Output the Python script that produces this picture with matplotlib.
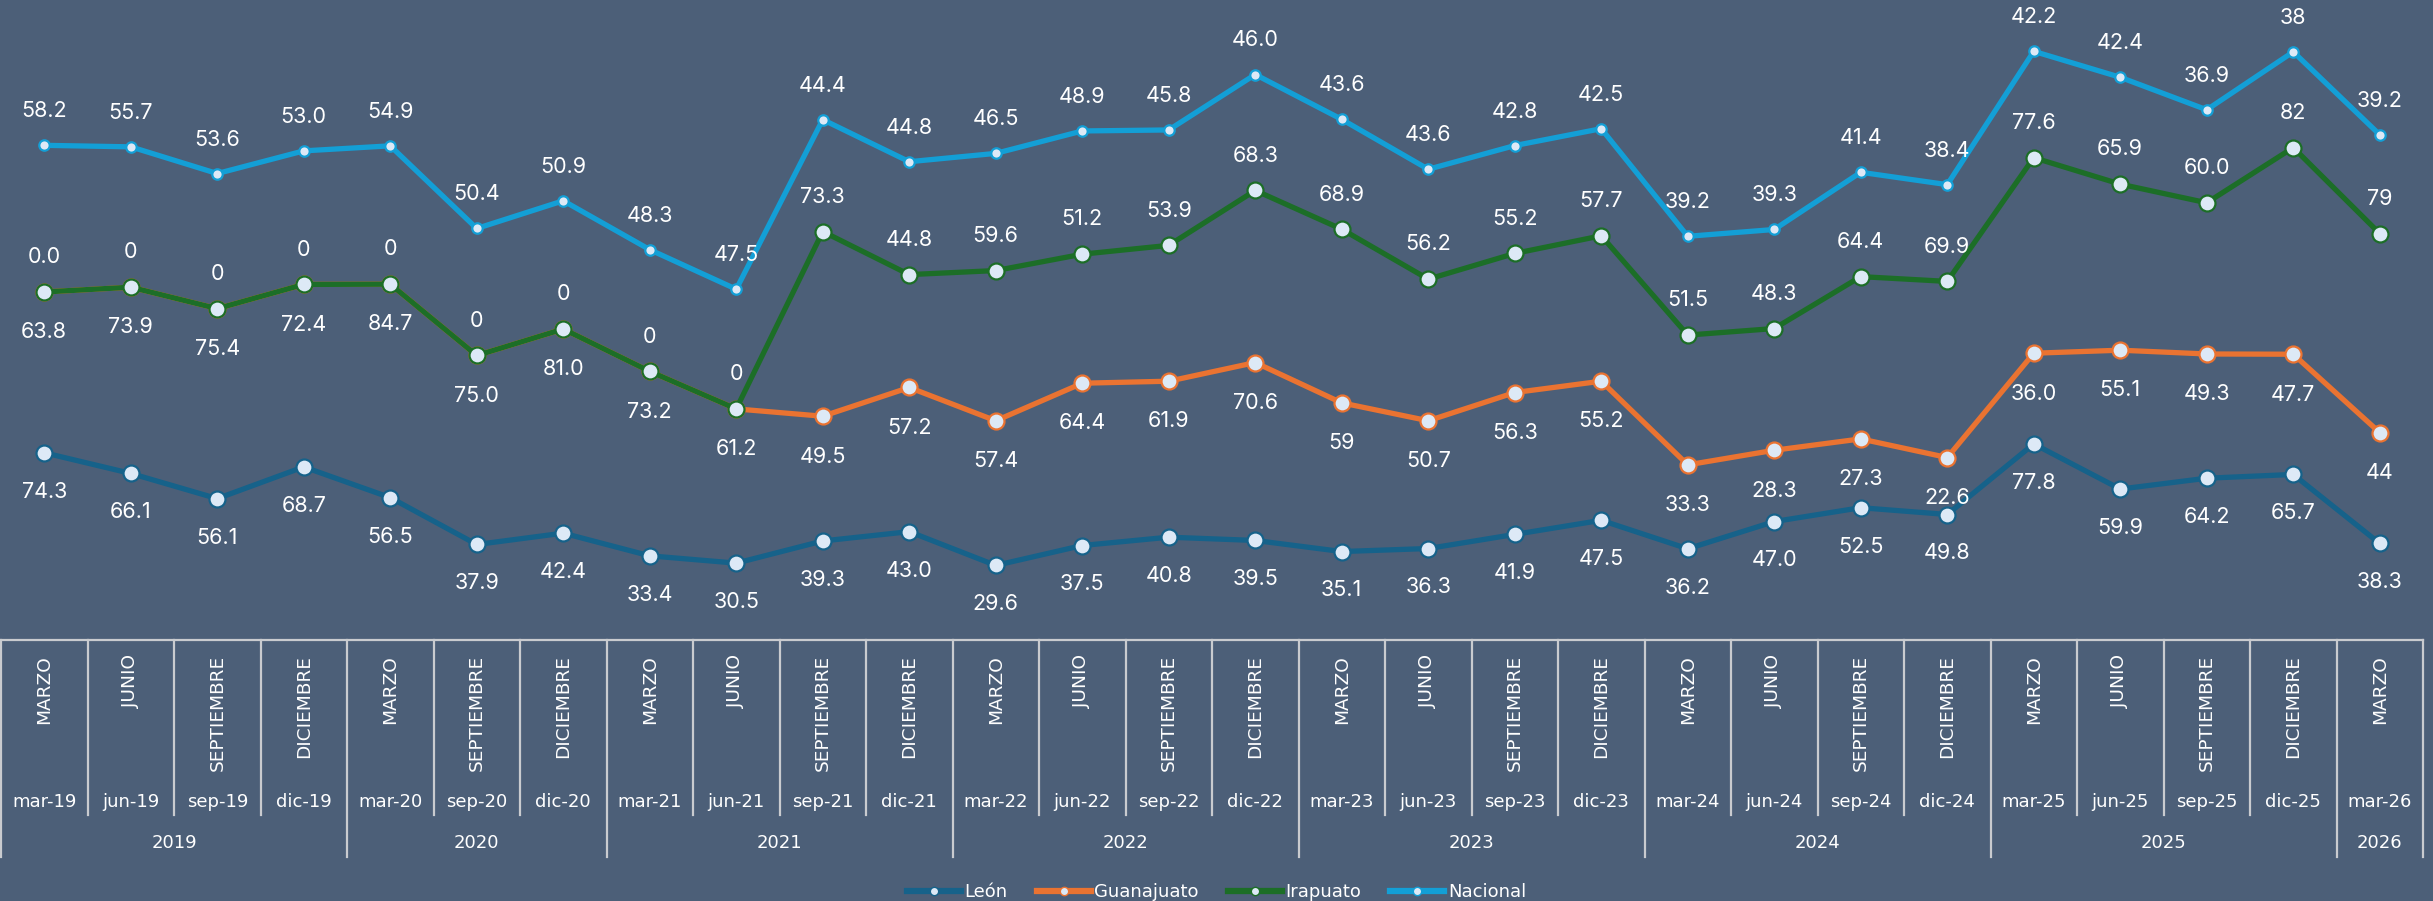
import matplotlib.pyplot as plt
from matplotlib.lines import Line2D
import numpy as np

plt.rcParams['font.family'] = ['Inter', 'DejaVu Sans']
eje_font = ['DejaVu Sans']

# categorias del eje (tres niveles)
meses = ['MARZO', 'JUNIO', 'SEPTIEMBRE', 'DICIEMBRE',
         'MARZO', 'SEPTIEMBRE', 'DICIEMBRE',
         'MARZO', 'JUNIO', 'SEPTIEMBRE', 'DICIEMBRE',
         'MARZO', 'JUNIO', 'SEPTIEMBRE', 'DICIEMBRE',
         'MARZO', 'JUNIO', 'SEPTIEMBRE', 'DICIEMBRE',
         'MARZO', 'JUNIO', 'SEPTIEMBRE', 'DICIEMBRE',
         'MARZO', 'JUNIO', 'SEPTIEMBRE', 'DICIEMBRE',
         'MARZO']
periodos = ['mar-19', 'jun-19', 'sep-19', 'dic-19',
            'mar-20', 'sep-20', 'dic-20',
            'mar-21', 'jun-21', 'sep-21', 'dic-21',
            'mar-22', 'jun-22', 'sep-22', 'dic-22',
            'mar-23', 'jun-23', 'sep-23', 'dic-23',
            'mar-24', 'jun-24', 'sep-24', 'dic-24',
            'mar-25', 'jun-25', 'sep-25', 'dic-25',
            'mar-26']
anios = ['2019', '2020', '2021', '2022', '2023', '2024', '2025', '2026']
anio_n = [4, 3, 4, 4, 4, 4, 4, 1]

# valores (texto tal como aparece en las etiquetas)
leon = ['74.3', '66.1', '56.1', '68.7', '56.5', '37.9', '42.4', '33.4', '30.5', '39.3',
        '43.0', '29.6', '37.5', '40.8', '39.5', '35.1', '36.3', '41.9', '47.5', '36.2',
        '47.0', '52.5', '49.8', '77.8', '59.9', '64.2', '65.7', '38.3']
guanajuato = ['63.8', '73.9', '75.4', '72.4', '84.7', '75.0', '81.0', '73.2', '61.2', '49.5',
              '57.2', '57.4', '64.4', '61.9', '70.6', '59', '50.7', '56.3', '55.2', '33.3',
              '28.3', '27.3', '22.6', '36.0', '55.1', '49.3', '47.7', '44']
irapuato = ['0.0', '0', '0', '0', '0', '0', '0', '0', '0', '73.3',
            '44.8', '59.6', '51.2', '53.9', '68.3', '68.9', '56.2', '55.2', '57.7', '51.5',
            '48.3', '64.4', '69.9', '77.6', '65.9', '60.0', '82', '79']
nacional = ['58.2', '55.7', '53.6', '53.0', '54.9', '50.4', '50.9', '48.3', '47.5', '44.4',
            '44.8', '46.5', '48.9', '45.8', '46.0', '43.6', '43.6', '42.8', '42.5', '39.2',
            '39.3', '41.4', '38.4', '42.2', '42.4', '36.9', '38', '39.2']

bg = '#4c5f78'
face = '#dde9f6'
c_leon = '#16628a'
c_gto = '#ea7331'
c_ira = '#1c6e27'
c_nac = '#139fd6'
c_axis = '#c9cbcf'

x = np.arange(len(periodos))

# grafica de lineas apiladas
series = [('León', leon, c_leon, 11.5, -28),
          ('Guanajuato', guanajuato, c_gto, 11.5, -29),
          ('Irapuato', irapuato, c_ira, 11.5, 25),
          ('Nacional', nacional, c_nac, 7.5, 24.5)]

fig = plt.figure(figsize=(24.33, 9.01), dpi=100, facecolor=bg)
ax = fig.add_axes([1 / 2433, 261 / 901, 2422 / 2433, 630 / 901])
ax.set_facecolor(bg)

base = np.zeros(len(x))
handles = []
for nombre, txt, color, ms, off in series:
    vals = np.array([float(t) for t in txt])
    y = base + vals
    ax.plot(x, y, color=color, lw=3.8, marker='o', ms=ms, mfc=face, mec=color,
            mew=1.6, solid_capstyle='round')
    for xi, yi, t in zip(x, y, txt):
        ax.annotate(t, (xi, yi), xytext=(0, off), textcoords='offset points',
                    ha='center', va='center', color='white', fontsize=15.5)
    handles.append(Line2D([], [], color=color, lw=4.5, marker='o', ms=6,
                          mfc=face, mec=color, mew=1))
    base = y

ax.set_xlim(-0.5, len(x) - 0.5)
ax.set_ylim(0, 250)
ax.set_yticks([])
ax.set_xticks([])
for s in ['top', 'left', 'right']:
    ax.spines[s].set_visible(False)
ax.spines['bottom'].set_color(c_axis)
ax.spines['bottom'].set_linewidth(1.6)

# eje de categorias multinivel
tr = ax.get_xaxis_transform()
y_fila = -0.278
y_anio = -0.344
limites = np.cumsum([0] + anio_n)
for i in range(len(x) + 1):
    fondo = y_anio if i in limites else y_fila
    ax.plot([i - 0.5, i - 0.5], [0, fondo], transform=tr, color=c_axis,
            lw=1.6, clip_on=False)

for xi, m, p in zip(x, meses, periodos):
    ax.text(xi, -0.024, m, transform=tr, rotation=90, ha='center', va='top',
            color='white', fontsize=13.3, family=eje_font)
    ax.text(xi, -0.257, p, transform=tr, ha='center', va='center',
            color='white', fontsize=13, family=eje_font)

for a, ini, n in zip(anios, limites[:-1], anio_n):
    ax.text(ini + (n - 1) / 2, -0.322, a, transform=tr, ha='center', va='center',
            color='white', fontsize=13, family=eje_font)

fig.legend(handles, [s[0] for s in series], loc='center', bbox_to_anchor=(0.5, 9 / 901),
           ncol=4, frameon=False, prop={'family': eje_font, 'size': 13},
           labelcolor='white', handlelength=3.0, handletextpad=0.2, columnspacing=1.6)

fig.savefig('out.png', dpi=100, facecolor=bg)
